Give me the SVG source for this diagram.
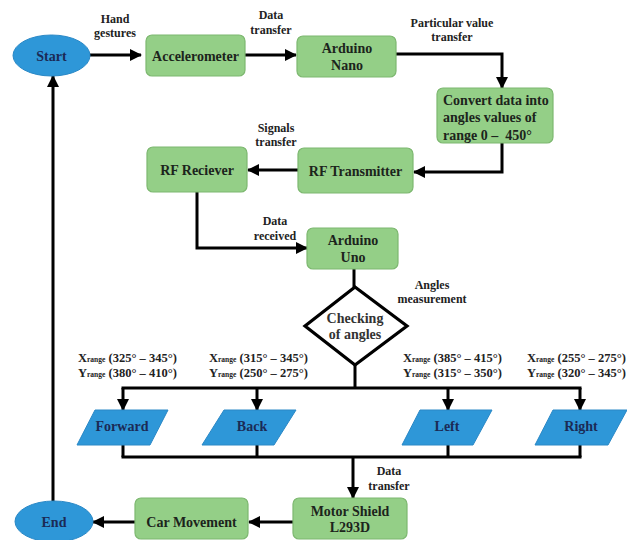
<svg xmlns="http://www.w3.org/2000/svg" width="627" height="540" viewBox="0 0 627 540">
<defs>
<marker id="ah" markerUnits="userSpaceOnUse" markerWidth="14" markerHeight="14" refX="11" refY="6" orient="auto">
<path d="M0,0 L12,6 L0,12 Z" fill="#000"/>
</marker>
<style>
.box{fill:#94cf87;stroke:#7db870;stroke-width:1.2}
.term{fill:#2e97d8;stroke:#2a88c6;stroke-width:1}
.io{fill:#2e97d8;stroke:#2a88c6;stroke-width:1}
.dec{fill:#fff;stroke:#000;stroke-width:3.2}
.bt{font-family:"Liberation Serif","Times New Roman",serif;font-weight:bold;font-size:14px;fill:#1c241c;text-anchor:middle}
.tt{font-family:"Liberation Serif","Times New Roman",serif;font-weight:bold;font-size:14px;fill:#1b2a55;text-anchor:middle}
.lb{font-family:"Liberation Serif","Times New Roman",serif;font-weight:bold;font-size:12px;fill:#222;text-anchor:middle}
.rg{font-family:"Liberation Serif","Times New Roman",serif;font-weight:bold;font-size:12.5px;fill:#222}
.sb{font-size:7.5px}
.c{fill:none;stroke:#000;stroke-width:3}
.a{marker-end:url(#ah)}
</style>
</defs>
<rect width="627" height="540" fill="#fff"/>

<g id="connectors">
<path class="c a" d="M90,55 H141"/>
<path class="c a" d="M245,55 H296"/>
<path class="c a" d="M396,54 H502 V88"/>
<path class="c a" d="M502,143 V172 H414"/>
<path class="c a" d="M298,170 H248"/>
<path class="c a" d="M197,192 V248 H307"/>
<path class="c" d="M354,269 V287"/>
<path class="c" d="M355,365 V388"/>
<path class="c" d="M121.5,388 H581.5"/>
<path class="c a" d="M123,388 V410"/>
<path class="c a" d="M257,388 V410"/>
<path class="c a" d="M448,388 V410"/>
<path class="c a" d="M580,388 V410"/>
<path class="c" d="M123,445 V457 M257,445 V457 M448,445 V457 M580,445 V457"/>
<path class="c" d="M121.5,457 H581.5"/>
<path class="c a" d="M353,457 V498"/>
<path class="c a" d="M293,522 H249"/>
<path class="c a" d="M135,522 H93"/>
<path class="c a" d="M53,501 V76"/>
</g>

<g id="labels">
<text class="lb" x="115" y="23">Hand</text>
<text class="lb" x="115" y="37">gestures</text>
<text class="lb" x="271" y="19">Data</text>
<text class="lb" x="271" y="34">transfer</text>
<text class="lb" x="452" y="27">Particular value</text>
<text class="lb" x="452" y="41">transfer</text>
<text class="lb" x="276" y="132">Signals</text>
<text class="lb" x="276" y="146">transfer</text>
<text class="lb" x="275" y="225">Data</text>
<text class="lb" x="275" y="240">received</text>
<text class="lb" x="432" y="289">Angles</text>
<text class="lb" x="432" y="303">measurement</text>
<text class="lb" x="389" y="475">Data</text>
<text class="lb" x="389" y="490">transfer</text>
<text class="rg" x="78" y="362">X<tspan class="sb">range</tspan> (325° – 345°)</text>
<text class="rg" x="78" y="377">Y<tspan class="sb">range</tspan> (380° – 410°)</text>
<text class="rg" x="209" y="362">X<tspan class="sb">range</tspan> (315° – 345°)</text>
<text class="rg" x="209" y="377">Y<tspan class="sb">range</tspan> (250° – 275°)</text>
<text class="rg" x="403" y="362">X<tspan class="sb">range</tspan> (385° – 415°)</text>
<text class="rg" x="403" y="377">Y<tspan class="sb">range</tspan> (315° – 350°)</text>
<text class="rg" x="527" y="362">X<tspan class="sb">range</tspan> (255° – 275°)</text>
<text class="rg" x="527" y="377">Y<tspan class="sb">range</tspan> (320° – 345°)</text>
</g>

<g id="start">
<ellipse class="term" cx="51.5" cy="55.5" rx="38.5" ry="20.5"/>
<text class="tt" x="51.5" y="60.5">Start</text>
</g>
<g id="accelerometer">
<rect class="box" x="146" y="35" width="99" height="41" rx="6"/>
<text class="bt" x="195.5" y="60.5">Accelerometer</text>
</g>
<g id="arduino-nano">
<rect class="box" x="297" y="36" width="99" height="41" rx="6"/>
<text class="bt" x="347" y="53">Arduino</text>
<text class="bt" x="347" y="70">Nano</text>
</g>
<g id="convert">
<rect class="box" x="437" y="88" width="116" height="55" rx="6"/>
<text class="bt" x="443" y="105" text-anchor="start" style="text-anchor:start">Convert data into</text>
<text class="bt" x="443" y="122" style="text-anchor:start">angles values of</text>
<text class="bt" x="443" y="140" style="text-anchor:start" xml:space="preserve">range 0 –  450°</text>
</g>
<g id="rf-transmitter">
<rect class="box" x="298" y="148" width="115" height="45" rx="6"/>
<text class="bt" x="355.5" y="176">RF Transmitter</text>
</g>
<g id="rf-receiver">
<rect class="box" x="147" y="147" width="100" height="45" rx="6"/>
<text class="bt" x="197" y="175">RF Reciever</text>
</g>
<g id="arduino-uno">
<rect class="box" x="307" y="228" width="91" height="41" rx="6"/>
<text class="bt" x="353" y="245">Arduino</text>
<text class="bt" x="353" y="262">Uno</text>
</g>
<g id="checking">
<polygon class="dec" points="355,287 407,326 355,365 305,326"/>
<text class="bt" x="355" y="323" style="fill:#333">Checking</text>
<text class="bt" x="355" y="339" style="fill:#333">of angles</text>
</g>
<g id="forward">
<polygon class="io" points="95,410 168,410 150,445 77,445"/>
<text class="tt" x="122" y="431">Forward</text>
</g>
<g id="back">
<polygon class="io" points="224,410 296,410 274,445 202,445"/>
<text class="tt" x="252" y="431">Back</text>
</g>
<g id="left">
<polygon class="io" points="420,410 492,410 473,445 402,445"/>
<text class="tt" x="447" y="431">Left</text>
</g>
<g id="right">
<polygon class="io" points="553,410 627,410 608,445 535,445"/>
<text class="tt" x="581" y="431">Right</text>
</g>
<g id="motor-shield">
<rect class="box" x="293" y="498" width="114" height="41" rx="6"/>
<text class="bt" x="350" y="516">Motor Shield</text>
<text class="bt" x="350" y="532">L293D</text>
</g>
<g id="car-movement">
<rect class="box" x="135" y="498" width="113" height="41" rx="6"/>
<text class="bt" x="191.5" y="527">Car Movement</text>
</g>
<g id="end">
<ellipse class="term" cx="54" cy="521.5" rx="39" ry="20.5"/>
<text class="tt" x="54" y="527">End</text>
</g>
</svg>
